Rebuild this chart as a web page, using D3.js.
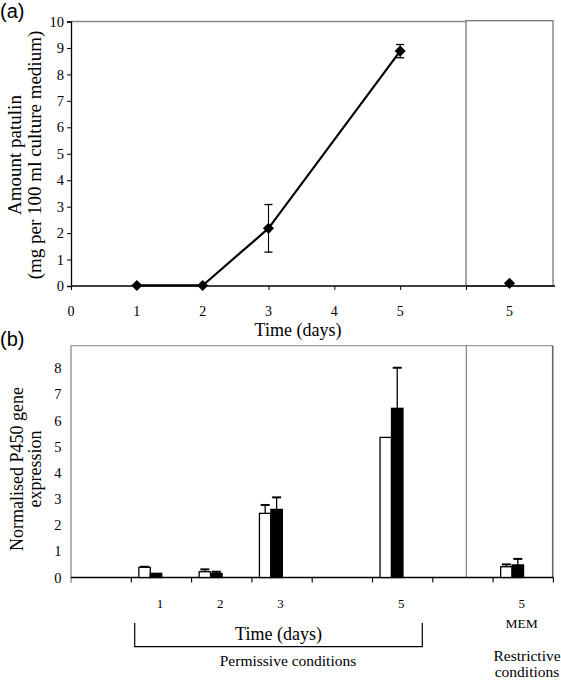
<!DOCTYPE html>
<html>
<head>
<meta charset="utf-8">
<script src="https://cdn.jsdelivr.net/npm/d3@7"></script>
<style>
  html, body { margin: 0; padding: 0; background: #fff; }
  svg { display: block; }
  text { font-family: "Liberation Serif", "Times New Roman", serif; fill: #000; }
  .sans { font-family: "Liberation Sans", Arial, sans-serif; }
</style>
</head>
<body>
<script>
// ---------- Panel (a) data ----------
const patulinDays = [1, 2, 3, 5];
const patulinValues = [0.02, 0.02, 2.18, 8.88];
const patulinErrors = [0, 0, 0.9, 0.25];
const restrictiveDays = ["5"];
const restrictiveValues = [0.1];
const patulinXTicks = [0, 1, 2, 3, 4, 5];
const patulinYTicks = [0, 1, 2, 3, 4, 5, 6, 7, 8, 9, 10];

// ---------- Panel (b) data ----------
const geneSlots = ["s0", "1", "2", "3", "s4", "5", "s6", "5M"];
const geneSlotLabels = ["", "1", "2", "3", "", "5", "", "5"];
const geneCategories = ["1", "2", "3", "5", "5M"];
const geneWhite = [0.39, 0.22, 2.45, 5.35, 0.41];
const geneWhiteErr = [0.02, 0.09, 0.32, 0, 0.09];
const geneBlack = [0.16, 0.16, 2.60, 6.46, 0.48];
const geneBlackErr = [0, 0.06, 0.46, 1.55, 0.23];
const geneYTicks = [0, 1, 2, 3, 4, 5, 6, 7, 8];

const W = 561, H = 680;
const svg = d3.select("body").append("svg").attr("width", W).attr("height", H);
svg.append("rect").attr("width", W).attr("height", H).attr("fill", "#fff");

// ================= Panel (a) =================
const xA = d3.scaleLinear().domain([0, 6]).range([71, 466]);
const xAR = d3.scalePoint().domain(restrictiveDays).range([466, 553]).padding(0.55);
const yA = d3.scaleLinear().domain([0, 10]).range([286, 21.5]);

const gA = svg.append("g");
// frame
gA.append("line").attr("x1", xA(0)).attr("x2", xA(6)).attr("y1", yA(10)).attr("y2", yA(10))
  .attr("stroke", "#888").attr("stroke-width", 1.3);
gA.append("rect").attr("x", xA(6)).attr("y", yA(10) - 0.8).attr("width", 553 - xA(6))
  .attr("height", yA(0) - yA(10) + 0.8).attr("fill", "none").attr("stroke", "#777").attr("stroke-width", 1.3);

// y axis
const yAxisA = d3.axisLeft(yA).tickValues(patulinYTicks).tickSize(4).tickPadding(3).tickFormat(d3.format("d"));
gA.append("g").attr("transform", `translate(${xA(0)},0)`).call(yAxisA)
  .call(g => g.select(".domain").attr("stroke", "#000").attr("stroke-width", 1.3))
  .call(g => g.selectAll(".tick line").attr("stroke", "#000"))
  .call(g => g.selectAll(".tick text").style("font-family", "Liberation Serif, serif").style("font-size", "14.5px").attr("fill", "#000"));

// x axis
const xAxisA = d3.axisBottom(xA).tickValues([0, 1, 2, 3, 4, 5, 6]).tickSize(4).tickFormat("");
gA.append("g").attr("transform", `translate(0,${yA(0)})`).call(xAxisA)
  .call(g => g.select(".domain").remove())
  .call(g => g.selectAll(".tick line").attr("stroke", "#000"));
gA.append("line").attr("x1", xA(0)).attr("x2", 555).attr("y1", yA(0)).attr("y2", yA(0))
  .attr("stroke", "#000").attr("stroke-width", 1.3);
gA.selectAll(".xlabA").data(patulinXTicks).join("text")
  .attr("x", d => xA(d)).attr("y", 315.5).attr("text-anchor", "middle")
  .style("font-size", "14px").text(d => d);
gA.selectAll(".xlabAR").data(restrictiveDays).join("text")
  .attr("x", d => xAR(d)).attr("y", 315.5).attr("text-anchor", "middle")
  .style("font-size", "14px").text(d => d);

// line
const ptsA = patulinDays.map((d, i) => ({ x: d, y: patulinValues[i], e: patulinErrors[i] }));
gA.append("path").datum(ptsA)
  .attr("d", d3.line().x(d => xA(d.x)).y(d => yA(d.y)))
  .attr("fill", "none").attr("stroke", "#000").attr("stroke-width", 2.2);
// error bars
const errPts = ptsA.filter(d => d.e > 0);
gA.selectAll(".errA").data(errPts).join("line")
  .attr("x1", d => xA(d.x)).attr("x2", d => xA(d.x))
  .attr("y1", d => yA(d.y - d.e)).attr("y2", d => yA(d.y + d.e))
  .attr("stroke", "#000").attr("stroke-width", 1.1);
[1, -1].forEach(s => {
  gA.selectAll(".capA" + s).data(errPts).join("line")
    .attr("x1", d => xA(d.x) - 4).attr("x2", d => xA(d.x) + 4)
    .attr("y1", d => yA(d.y + s * d.e)).attr("y2", d => yA(d.y + s * d.e))
    .attr("stroke", "#000").attr("stroke-width", 1.3);
});
const diamond = d3.symbol().type(d3.symbolSquare).size(62);
gA.selectAll(".ptA").data(ptsA).join("path")
  .attr("d", diamond).attr("transform", d => `translate(${xA(d.x)},${yA(d.y)}) rotate(45)`)
  .attr("fill", "#000");
gA.selectAll(".ptAR").data(restrictiveDays).join("path")
  .attr("d", diamond).attr("transform", (d, i) => `translate(${xAR(d)},${yA(restrictiveValues[i])}) rotate(45)`)
  .attr("fill", "#000");

// labels
gA.append("text").attr("x", 298).attr("y", 335.5).attr("text-anchor", "middle")
  .style("font-size", "18px").text("Time (days)");
gA.append("text").attr("transform", "translate(21,155) rotate(-90)").attr("text-anchor", "middle")
  .style("font-size", "19px").text("Amount patulin");
gA.append("text").attr("transform", "translate(41,155) rotate(-90)").attr("text-anchor", "middle")
  .style("font-size", "19px").text("(mg per 100 ml culture medium)");
svg.append("text").attr("class", "sans").attr("x", 0).attr("y", 18)
  .style("font-size", "20px").text("(a)");

// ================= Panel (b) =================
const xB = d3.scaleBand().domain(geneSlots).range([71, 553.4]).paddingInner(0).paddingOuter(0);
const yB = d3.scaleLinear().domain([0, 8]).range([577.5, 368]);
const topB = 345.7;
const gB = svg.append("g");
const bw = xB.bandwidth();
const barW = bw * 0.19;
const barOff = bw * 0.125;

// frame
gB.append("line").attr("x1", 71).attr("x2", 553).attr("y1", topB).attr("y2", topB)
  .attr("stroke", "#999").attr("stroke-width", 1.3);
gB.append("line").attr("x1", 552.7).attr("x2", 552.7).attr("y1", topB).attr("y2", yB(0))
  .attr("stroke", "#666").attr("stroke-width", 1.6);
gB.append("line").attr("x1", 466.3).attr("x2", 466.3).attr("y1", topB).attr("y2", yB(0))
  .attr("stroke", "#777").attr("stroke-width", 1.1);
gB.append("line").attr("x1", 71).attr("x2", 71).attr("y1", topB).attr("y2", 583)
  .attr("stroke", "#888").attr("stroke-width", 1.3);

// y axis labels (no tick marks)
const yAxisB = d3.axisLeft(yB).tickValues(geneYTicks).tickSize(0).tickPadding(9.5).tickFormat(d3.format("d"));
gB.append("g").attr("transform", "translate(71,0)").call(yAxisB)
  .call(g => g.select(".domain").remove())
  .call(g => g.selectAll(".tick text").style("font-family", "Liberation Serif, serif").style("font-size", "14.5px").attr("fill", "#000"));

// x axis
gB.append("line").attr("x1", 71).attr("x2", 553.4).attr("y1", yB(0)).attr("y2", yB(0))
  .attr("stroke", "#000").attr("stroke-width", 1.3);
gB.selectAll(".tickB").data(geneSlots.slice(1).concat(["end"])).join("line")
  .attr("x1", d => d === "end" ? 553.4 : xB(d)).attr("x2", d => d === "end" ? 553.4 : xB(d))
  .attr("y1", yB(0)).attr("y2", yB(0) + 5).attr("stroke", "#000").attr("stroke-width", 1.1);
gB.selectAll(".xlabB").data(geneSlots).join("text")
  .attr("x", d => xB(d) + bw / 2 - 1.5).attr("y", 607.5).attr("text-anchor", "middle")
  .style("font-size", "13px").text((d, i) => geneSlotLabels[i]);
gB.append("text").attr("x", xB("5M") + bw / 2 - 1.5).attr("y", 627.5).attr("text-anchor", "middle")
  .style("font-size", "13.5px").text("MEM");

// bars
const barsData = geneCategories.map((c, i) => ({ c, w: geneWhite[i], we: geneWhiteErr[i], b: geneBlack[i], be: geneBlackErr[i] }));
function errBars(cls, xf, vf, ef) {
  const d0 = barsData.filter(d => ef(d) > 0);
  gB.selectAll(".e" + cls).data(d0).join("line")
    .attr("x1", xf).attr("x2", xf)
    .attr("y1", d => yB(vf(d))).attr("y2", d => yB(vf(d) + ef(d)))
    .attr("stroke", "#000").attr("stroke-width", 1.3);
  gB.selectAll(".c" + cls).data(d0).join("line")
    .attr("x1", d => xf(d) - 4.5).attr("x2", d => xf(d) + 4.5)
    .attr("y1", d => yB(vf(d) + ef(d))).attr("y2", d => yB(vf(d) + ef(d)))
    .attr("stroke", "#000").attr("stroke-width", 2);
}
errBars("w", d => xB(d.c) + barOff + barW / 2, d => d.w, d => d.we);
errBars("b", d => xB(d.c) + barOff + barW * 1.5, d => d.b, d => d.be);
gB.selectAll(".barW").data(barsData).join("rect")
  .attr("x", d => xB(d.c) + barOff).attr("width", barW)
  .attr("y", d => yB(d.w)).attr("height", d => yB(0) - yB(d.w))
  .attr("fill", "#fff").attr("stroke", "#000").attr("stroke-width", 1.3);
gB.selectAll(".barB").data(barsData).join("rect")
  .attr("x", d => xB(d.c) + barOff + barW).attr("width", barW)
  .attr("y", d => yB(d.b)).attr("height", d => yB(0) - yB(d.b))
  .attr("fill", "#000").attr("stroke", "#000").attr("stroke-width", 1.3);

// bracket and labels
const bx1 = 134.7, bx2 = 422.3;
gB.append("path").attr("d", `M${bx1},623 V646.7 H${bx2} V623`).attr("fill", "none")
  .attr("stroke", "#000").attr("stroke-width", 1.2);
gB.append("text").attr("x", (bx1 + bx2) / 2).attr("y", 639.5).attr("text-anchor", "middle")
  .style("font-size", "18px").text("Time (days)");
gB.append("text").attr("x", 288).attr("y", 666).attr("text-anchor", "middle")
  .style("font-size", "15.5px").text("Permissive conditions");
gB.append("text").attr("x", 527).attr("y", 660.5).attr("text-anchor", "middle")
  .style("font-size", "15.5px").text("Restrictive");
gB.append("text").attr("x", 527).attr("y", 677).attr("text-anchor", "middle")
  .style("font-size", "15.5px").text("conditions");

gB.append("text").attr("transform", "translate(22.8,469) rotate(-90)").attr("text-anchor", "middle")
  .style("font-size", "18px").text("Normalised P450 gene");
gB.append("text").attr("transform", "translate(41,469) rotate(-90)").attr("text-anchor", "middle")
  .style("font-size", "18px").text("expression");
svg.append("text").attr("class", "sans").attr("x", 0).attr("y", 346)
  .style("font-size", "20px").text("(b)");
</script>
</body>
</html>
